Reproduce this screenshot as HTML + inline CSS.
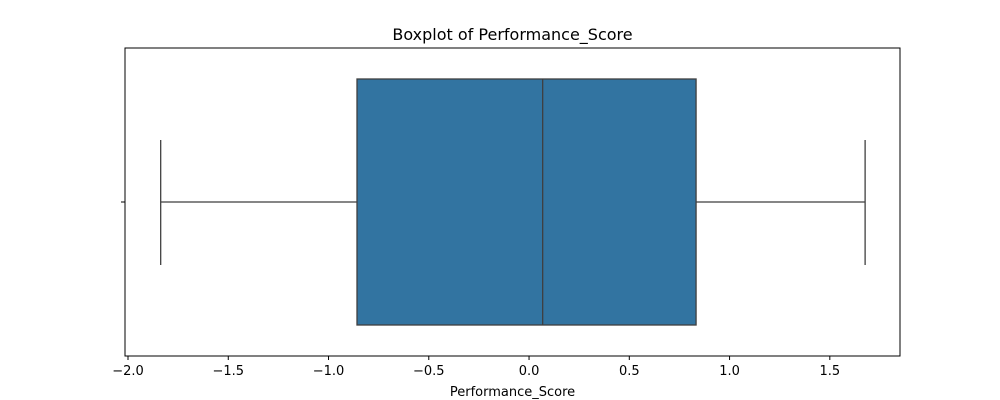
<!DOCTYPE html>
<html><head><meta charset="utf-8"><style>
body{margin:0;background:#fff;}
svg{display:block;font-family:"DejaVu Sans","Liberation Sans",sans-serif;}
</style></head><body>
<svg id="chart" width="1000" height="400" viewBox="0 0 1000 400">
<text x="512.5" y="40" text-anchor="middle" font-size="16" fill="#000">Boxplot of Performance_Score</text>
<g id="plot"></g>
<text x="512.5" y="396" text-anchor="middle" font-size="13" fill="#000">Performance_Score</text>
</svg>
<script>
const statLabels = ["whislo","q1","med","q3","whishi"];
const statValues = [-1.837, -0.858, 0.068, 0.833, 1.676];
const tickValues = [-2.0,-1.5,-1.0,-0.5,0.0,0.5,1.0,1.5];
const tickLabels = ["\u22122.0","\u22121.5","\u22121.0","\u22120.5","0.0","0.5","1.0","1.5"];
const xDomain = [-2.015, 1.850];

const L=125,R=900,T=48,B=356;
const x=v=>L+(v-xDomain[0])/(xDomain[1]-xDomain[0])*(R-L);
const ns="http://www.w3.org/2000/svg";
const g=document.getElementById('plot');
function mk(tag,attrs){const e=document.createElementNS(ns,tag);for(const k in attrs)e.setAttribute(k,attrs[k]);g.appendChild(e);return e;}
const cy=202, bt=79, bb=325, ct=140, cb=265, lc="#3f3f3f";
const [lo,q1,med,q3,hi]=statValues;
let e;
e=mk('line',{x1:x(lo),x2:x(q1),y1:cy,y2:cy,stroke:lc,'stroke-width':1.3});


e=mk('line',{x1:x(q3),x2:x(hi),y1:cy,y2:cy,stroke:lc,'stroke-width':1.3});


e=mk('line',{x1:x(lo),x2:x(lo),y1:ct,y2:cb,stroke:lc,'stroke-width':1.3});


e=mk('line',{x1:x(hi),x2:x(hi),y1:ct,y2:cb,stroke:lc,'stroke-width':1.3});


e=mk('rect',{x:x(q1),y:bt,width:x(q3)-x(q1),height:bb-bt,fill:'#3274a1',stroke:lc,'stroke-width':1.3});


e=mk('line',{x1:x(med),x2:x(med),y1:bt,y2:bb,stroke:lc,'stroke-width':1.3});


e=mk('rect',{x:L,y:T,width:R-L,height:B-T,fill:'none',stroke:'#000','stroke-width':1});


e=mk('line',{x1:L-4,x2:L,y1:cy,y2:cy,stroke:'#000','stroke-width':1});


tickValues.forEach((v,i)=>{
  const t=mk('line',{x1:x(v),x2:x(v),y1:B,y2:B+4,stroke:'#000','stroke-width':1});
  
  
  const tx=mk('text',{x:x(v),y:B+19,'text-anchor':'middle','font-size':13,fill:'#000'});
  tx.textContent=tickLabels[i];
  
  
});
</script>
</body></html>
